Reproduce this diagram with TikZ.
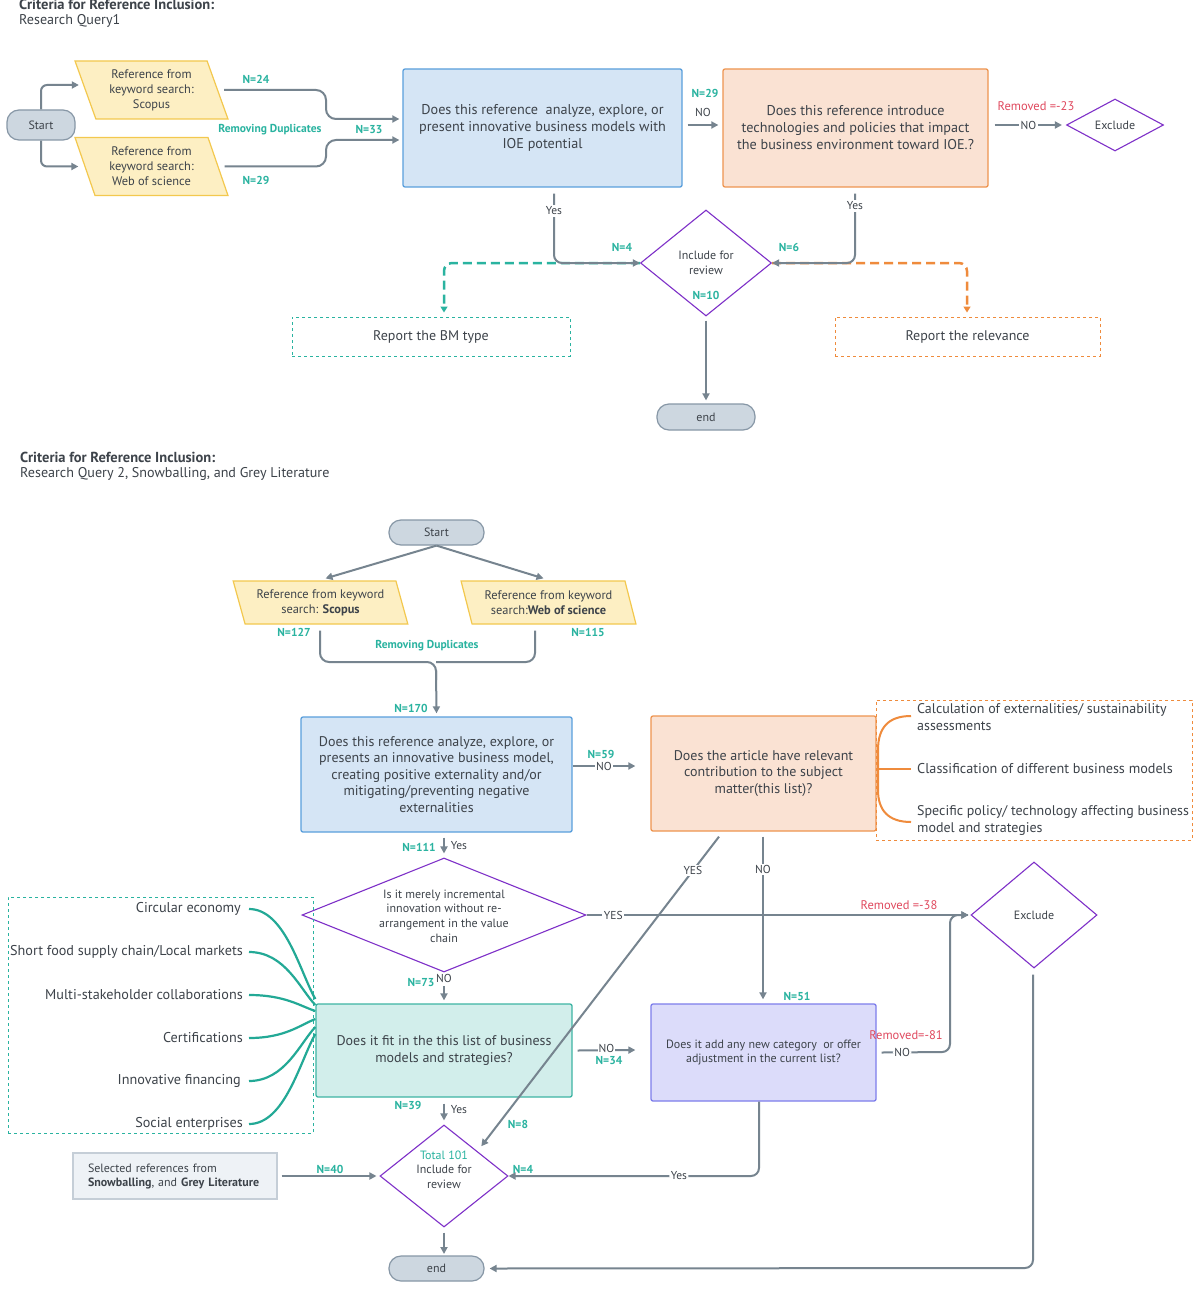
\documentclass[tikz,border=0pt]{standalone}
\usepackage{fontspec}
\setmainfont{PT Sans}
\usetikzlibrary{shapes.geometric,arrows.meta,calc}
\newcommand\fsz[2]{\fontsize{#1}{#2}\selectfont}
\definecolor{ink}{HTML}{3D434A}
\definecolor{arrowc}{HTML}{76848F}
\definecolor{tealc}{HTML}{2AB3A0}
\definecolor{redc}{HTML}{E04A5F}
\definecolor{purp}{HTML}{7E30C8}
\definecolor{bluef}{HTML}{D5E5F5}
\definecolor{bluel}{HTML}{5A9FDC}
\definecolor{orf}{HTML}{FAE2D3}
\definecolor{orl}{HTML}{EE9550}
\definecolor{ord}{HTML}{EF8B3C}
\definecolor{yelf}{HTML}{FDEFC3}
\definecolor{yell}{HTML}{F3C84E}
\definecolor{termf}{HTML}{CDD7E0}
\definecolor{terml}{HTML}{8797A6}
\definecolor{tealf}{HTML}{D2EEEB}
\definecolor{teall}{HTML}{3EB4A3}
\definecolor{teald}{HTML}{23A996}
\definecolor{purf}{HTML}{DCDCFA}
\definecolor{purl}{HTML}{7D7DEB}
\definecolor{grayf}{HTML}{EEF2F6}
\definecolor{grayl}{HTML}{C5CED7}
\tikzset{
  every node/.style={text=ink},
  boxq/.style={draw, rounded corners=2pt, line width=1.3pt, align=center, inner sep=2pt, font=\fsz{14.2}{17}},
  term/.style={draw=terml, fill=termf, line width=1.2pt, rounded corners=12pt, font=\fsz{12}{13}},
  para/.style={draw=yell, fill=yelf, line width=1.2pt, trapezium, trapezium left angle=111, trapezium right angle=69, trapezium stretches=true, align=center, inner sep=0pt, font=\fsz{12.4}{15}},
  dia/.style={draw=purp, fill=white, line width=1.1pt, diamond, inner sep=0pt},
  lab/.style={font=\fsz{11.5}{12}\bfseries, text=tealc, inner sep=0pt},
  rlab/.style={font=\fsz{12.5}{13}, text=redc, inner sep=0pt},
  wl/.style={fill=white, inner sep=1.5pt, font=\fsz{11.5}{12}, text=ink},
  arr/.style={draw=arrowc, line width=2pt, -{Triangle[length=7pt,width=7pt]}},
  ln/.style={draw=arrowc, line width=2pt},
  title/.style={font=\fsz{14.5}{15}\bfseries, anchor=west, inner sep=0pt},
  subt/.style={font=\fsz{14.1}{15}, anchor=west, inner sep=0pt},
  item/.style={font=\fsz{14.2}{15}, inner sep=0pt},
}
\begin{document}
\begin{tikzpicture}[x=1pt,y=-1pt]
\useasboundingbox (0,0) rectangle (1200,1292);
\fill[white] (0,0) rectangle (1200,1292);

%% ---------------- TOP SECTION ----------------
\node[title] (t1) at (19,4) {Criteria for Reference Inclusion:};
\node[subt] (t1b) at (19,21) {Research Query1};

\node[term, minimum width=68, minimum height=30] (s1) at (41,125) {Start};
\node[para, minimum width=153, minimum height=58] (p1) at (151.5,90) {Reference from\\keyword search:\\Scopus};
\node[para, minimum width=153, minimum height=58] (p2) at (151.5,166.5) {Reference from\\keyword search:\\Web of science};

\node[boxq, draw=bluel, fill=bluef, minimum width=279, minimum height=118] (b1) at (542.5,128)
  {Does this reference \ analyze, explore, or\\present innovative business models with\\IOE potential};
\node[boxq, draw=orl, fill=orf, minimum width=265, minimum height=118] (o1) at (855.5,128)
  {Does this reference introduce\\technologies and policies that impact\\the business environment toward IOE.?};
\node[dia, minimum width=97, minimum height=52] (ex1) at (1115,125) {};
\node[font=\fsz{12}{13}] (ex1t) at (1115,125) {Exclude};

\node[dia, minimum width=131, minimum height=106] (inc1) at (706,263) {};
\node[align=center, font=\fsz{12}{15}] (inc1t) at (706,262.5) {Include for\\review};
\node[lab] (n10) at (706,295) {N=10};

\node[draw=tealc, dashed, line width=1pt, minimum width=278, minimum height=39, font=\fsz{14}{15}] (rep1) at (431,336.5) {Report the BM type};
\node[draw=ord, dashed, line width=1pt, minimum width=265, minimum height=39, font=\fsz{14}{15}] (rep2) at (967.5,336.5) {Report the relevance};
\node[term, minimum width=98, minimum height=26] (e1) at (706,417) {end};

% connectors top
\draw[arr, rounded corners=6pt] (s1.north) |- ($(p1.west)+(-6,-5)$);
\draw[arr, rounded corners=6pt] (s1.south) |- ($(p2.west)+(-6,0)$);
\draw[arr, rounded corners=10pt] ($(p1.east)+(6,0)$) -- (326,90) -- (326,119) -- ($(b1.west)+(-3,-9)$);
\draw[arr, rounded corners=10pt] ($(p2.east)+(6,0)$) -- (326,166.5) -- (326,140) -- ($(b1.west)+(-3,12)$);
\node[lab] (n24) at (256,79) {N=24};
\node[lab] (rd1) at (270,130) {Removing Duplicates};
\node[lab] (n33) at (369,130) {N=33};
\node[lab] (n29a) at (256,180) {N=29};

\draw[arr] ($(b1.east)+(5,-3)$) -- ($(o1.west)+(-4,-3)$);
\node[lab] (n29b) at (705,93) {N=29};
\node[font=\fsz{11.5}{12}, inner sep=0] (no1) at (703,112) {NO};

\draw[arr] ($(o1.east)+(6,-3)$) -- node[wl] (no2) {NO} ($(ex1.west)+(-4,0)$);
\node[rlab] (rm23) at (1036,106) {Removed =-23};

% dashed report arrows (under gray)
\draw[draw=tealc, line width=2.5pt, dash pattern=on 9pt off 5pt, rounded corners=8pt, -{Triangle[length=6pt,width=7pt]}] (inc1.west) -- (444,263) -- ($(rep1.north)+(13,-4)$);
\draw[draw=ord, line width=2.5pt, dash pattern=on 9pt off 5pt, rounded corners=8pt, -{Triangle[length=6pt,width=7pt]}] (inc1.east) -- (967,263) -- ($(rep2.north)+(-0.5,-4)$);

\draw[arr, rounded corners=8pt] ($(b1.south)+(11.5,6)$) -- (554,263) -- (inc1.west);
\node[wl] (yes1) at (554,211) {Yes};
\draw[arr, rounded corners=8pt] ($(o1.south)+(-0.5,6)$) -- (855,263) -- (inc1.east);
\node[wl] (yes2) at (855,206) {Yes};
\node[lab] (n4a) at (622,247) {N=4};
\node[lab] (n6) at (789,247) {N=6};

\draw[arr] ($(inc1.south)+(0,4)$) -- ($(e1.north)+(0,-3)$);

%% ---------------- BOTTOM SECTION ----------------
\node[title] (t2) at (20,457) {Criteria for Reference Inclusion:};
\node[subt] (t2b) at (20,474) {Research Query 2, Snowballing, and Grey Literature};

\node[term, minimum width=95, minimum height=25] (s2) at (436.5,532.5) {Start};
\node[para, minimum width=175, minimum height=43] (p3) at (320.5,602.5) {Reference from keyword\\search: \textbf{Scopus}};
\node[para, minimum width=175, minimum height=43] (p4) at (548.5,602.5) {Reference from keyword\\search:\textbf{Web of science}};

\draw[arr] (s2.south) -- ($(p3.north)+(5,-2)$);
\draw[arr] (s2.south) -- ($(p4.north)+(-5,-2)$);

\node[boxq, draw=bluel, fill=bluef, minimum width=271, minimum height=115, font=\fsz{14}{16.6}] (b2) at (436.5,774.5)
  {Does this reference analyze, explore, or\\presents an innovative business model,\\creating positive externality and/or\\mitigating/preventing negative\\externalities};
\node[boxq, draw=orl, fill=orf, minimum width=225, minimum height=115, font=\fsz{14}{16.6}] (o2) at (763.5,773.5)
  {Does the article have relevant\\contribution to the subject\\matter(this list)?};

\draw[ln, rounded corners=9pt] ($(p3.south)+(-0.5,6)$) -- (320,662) -- (436,662) -- (436,680);
\draw[ln, rounded corners=9pt] ($(p4.south)+(-13.5,6)$) -- (535,662) -- (436,662);
\draw[arr] (436,670) -- ($(b2.north)+(0,-3)$);
\node[lab] (n127) at (294,632) {N=127};
\node[lab] (n115) at (588,632) {N=115};
\node[lab] (rd2) at (427,646) {Removing Duplicates};
\node[lab] (n170) at (411,708) {N=170};

\draw[arr] ($(b2.east)+(0,-8.5)$) -- node[wl] (no3) {NO} ($(o2.west)+(-15,-7.5)$);
\node[lab] (n59) at (601,754) {N=59};

% orange group
\node[draw=ord, dashed, line width=1pt, minimum width=316, minimum height=140, inner sep=0] (grp1) at (1034,770) {};
\draw[draw=ord, line width=2pt] (o2.east |- 0,769) -- (911,769);
\draw[draw=ord, line width=2pt] (911,716) .. controls (888,716) and (878,728) .. (878,750) -- (878,790) .. controls (878,810) and (888,822) .. (911,822);
\node[item, anchor=west, align=left, font=\fsz{14}{17}] (g1) at (917,717.5) {Calculation of externalities/ sustainability\\assessments};
\node[item, anchor=west] (g2) at (917,769) {Classification of different business models};
\node[item, anchor=west, align=left, font=\fsz{14}{17}] (g3) at (917,820.5) {Specific policy/ technology affecting business\\model and strategies};

% decision diamond
\node[dia, minimum width=284, minimum height=114] (d2) at (444,915) {};
\node[align=center, font=\fsz{12}{14.6}] (d2t) at (444,916) {Is it merely incremental\\innovation without re-\\arrangement in the value\\chain};
\draw[arr] ($(b2.south)+(7.5,5)$) -- ($(d2.north)+(0,-4)$);
\node[lab] (n111) at (419,847) {N=111};
\node[font=\fsz{11.5}{12}, inner sep=0] (yes3) at (459,846) {Yes};

\node[dia, minimum width=126, minimum height=106] (ex2) at (1034,915) {};
\node[font=\fsz{12}{13}] (ex2t) at (1034,915) {Exclude};

\node[boxq, draw=teall, fill=tealf, minimum width=256, minimum height=93, font=\fsz{14}{17}] (tl) at (444,1050.5)
  {Does it fit in the this list of business\\models and strategies?};
\node[boxq, draw=purl, fill=purf, minimum width=225, minimum height=97, font=\fsz{12}{14}] (pu) at (763.5,1052.5)
  {Does it add any new category \ or offer\\adjustment in the current list?};

\node[dia, minimum width=128, minimum height=102] (inc2) at (444,1176) {};
\node[align=center, font=\fsz{12}{14.5}] (inc2t) at (444,1169.5) {\textcolor{tealc}{Total 101}\\Include for\\review};

\node[draw=grayl, fill=grayf, line width=1.2pt, minimum width=204, minimum height=46, align=left, font=\fsz{12}{14}, text width=174] (sel) at (175,1176)
  {Selected references from\\\textbf{Snowballing}, and \textbf{Grey Literature}};
\node[term, minimum width=95, minimum height=25] (e2) at (436.5,1268.5) {end};

% teal list group
\node[draw=tealc, dashed, line width=1pt, minimum width=305, minimum height=236, inner sep=0] (grp2) at (160.5,1015) {};
\node[item, anchor=east] (c1) at (241,909) {Circular economy};
\node[item, anchor=east] (c2) at (243,952) {Short food supply chain/Local markets};
\node[item, anchor=east] (c3) at (243,995) {Multi-stakeholder collaborations};
\node[item, anchor=east] (c4) at (243,1038) {Certifications};
\node[item, anchor=east] (c5) at (241,1081) {Innovative financing};
\node[item, anchor=east] (c6) at (243,1124) {Social enterprises};
\begin{scope}[draw=teald, line width=2.2pt]
\draw ($(c1.east)+(8,0)$) .. controls (285,909) and (300,972) .. (tl.west |- 0,999);
\draw ($(c2.east)+(6,0)$) .. controls (285,952) and (300,989) .. (tl.west |- 0,1005);
\draw ($(c3.east)+(6,0)$) .. controls (285,995) and (300,1006) .. (tl.west |- 0,1011);
\draw ($(c4.east)+(6,0)$) .. controls (285,1038) and (300,1025) .. (tl.west |- 0,1019);
\draw ($(c5.east)+(8,0)$) .. controls (285,1081) and (300,1043) .. (tl.west |- 0,1027);
\draw ($(c6.east)+(6,0)$) .. controls (285,1124) and (300,1061) .. (tl.west |- 0,1034);
\end{scope}

% connectors bottom
\draw[ln] (d2.east) -- node[pos=0.07, wl] (yes4) {YES} ($(ex2.west)+(-2,0)$);
\draw[arr] (900,915) -- ($(ex2.west)+(-2,0)$);
\node[rlab] (rm38) at (899,905) {Removed =-38};

\node[font=\fsz{11.5}{12}, inner sep=0] (no4) at (444,978) {NO};
\draw[arr] (444,986) -- ($(tl.north)+(0,-3)$);
\node[lab] (n73) at (421,983) {N=73};

\draw[arr] ($(tl.east)+(5,0)$) -- node[pos=0.5, yshift=2pt, wl, inner sep=0.5pt] (no5) {NO} ($(pu.west)+(-15,-2.5)$);
\node[lab] (n34) at (609,1061) {N=34};

\draw[arr] ($(o2.south)+(-0.5,5)$) -- node[pos=0.2, wl] (no6) {NO} ($(pu.north)+(-0.5,-4)$);
\node[lab] (n51) at (797,996) {N=51};
\draw[arr] ($(o2.south)+(-44.5,5)$) -- node[pos=0.11, wl] (yes5) {YES} ($(inc2.north east)+(5,-4)$);
\node[lab] (n8) at (518,1124) {N=8};

\draw[arr] ($(tl.south)+(0,6)$) -- ($(inc2.north)+(0,-4)$);
\node[lab] (n39) at (408,1105) {N=39};
\node[font=\fsz{11.5}{12}, inner sep=0] (yes6) at (459,1110) {Yes};

\draw[arr] ($(sel.east)+(4,0)$) -- ($(inc2.west)+(-3,0)$);
\node[lab] (n40) at (330,1169) {N=40};

\draw[arr, rounded corners=8pt] ($(pu.south)+(-4.5,0)$) -- (759,1176) -- node[pos=0.32, wl] (yes7) {Yes} (inc2.east);
\node[lab] (n4b) at (523,1169) {N=4};

\draw[arr, rounded corners=8pt] ($(pu.east)+(5,0)$) -- node[pos=0.3, wl] (no7) {NO} (950,1052) -- (950,915) -- ($(ex2.west)+(-2,0)$);
\node[rlab] (rm81) at (906,1035) {Removed=-81};

\draw[arr, rounded corners=8pt] ($(ex2.south)+(-1,6)$) -- (1033,1268) -- ($(e2.east)+(5,0)$);
\draw[arr] ($(inc2.south)+(0,5)$) -- (inc2.south |- 0,1254);

\end{tikzpicture}
\end{document}
